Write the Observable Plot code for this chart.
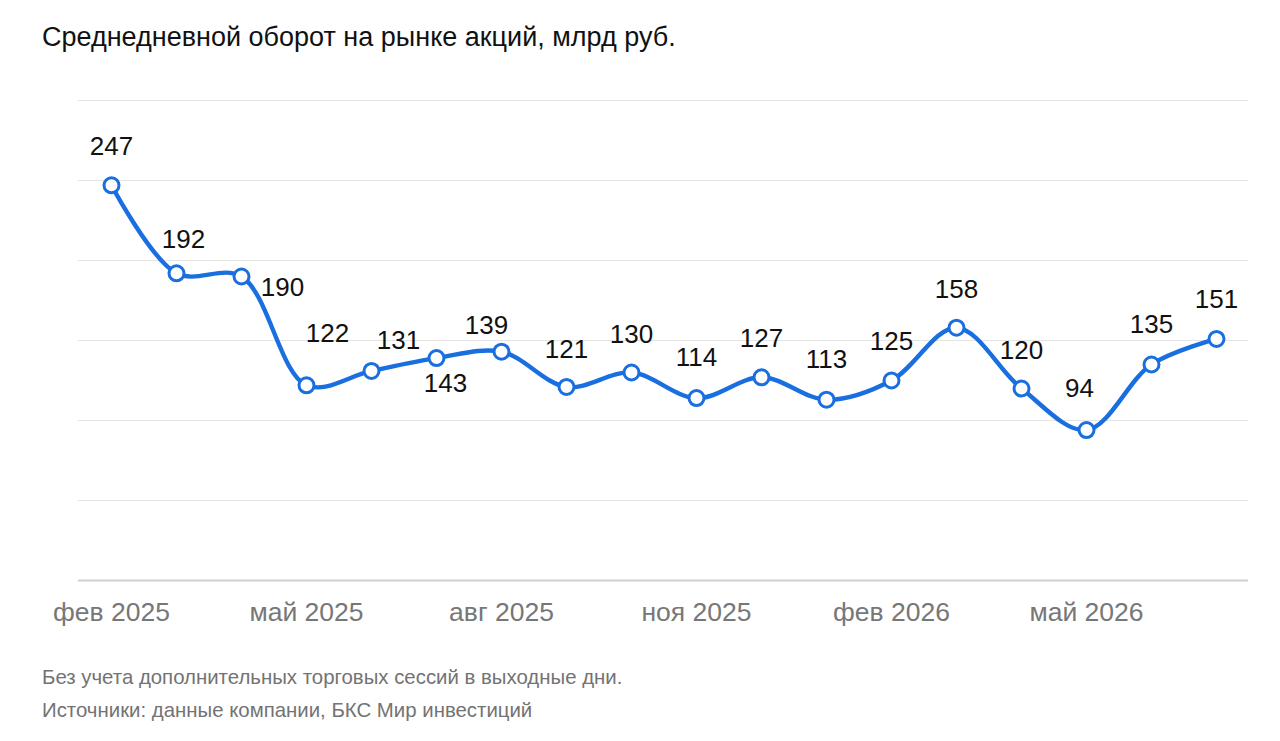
<!DOCTYPE html>
<html>
<head>
<meta charset="utf-8">
<script src="https://cdn.jsdelivr.net/npm/d3@7"></script>
<script src="https://cdn.jsdelivr.net/npm/@observablehq/plot@0.6"></script>
<style>
  html, body { margin: 0; padding: 0; background: #fff; }
  body { width: 1280px; height: 741px; overflow: hidden; font-family: "Liberation Sans", Arial, sans-serif; }
  #title { height: 76px; box-sizing: border-box; padding: 22px 0 0 42px; font-size: 27px; color: #111; line-height: 30px; }
  #chart { height: 560px; }
  #caption { padding: 25px 0 0 42px; font-size: 20.4px; color: #737373; line-height: 33px; }
</style>
</head>
<body>
<div id="title">Среднедневной оборот на рынке акций, млрд руб.</div>
<div id="chart"></div>
<div id="caption">
  <div>Без учета дополнительных торговых сессий в выходные дни.</div>
  <div>Источники: данные компании, БКС Мир инвестиций</div>
</div>
<script>
const months = ["фев 2025","мар 2025","апр 2025","май 2025","июн 2025","июл 2025","авг 2025","сен 2025","окт 2025","ноя 2025","дек 2025","янв 2026","фев 2026","мар 2026","апр 2026","май 2026","июн 2026","июл 2026"];
const values = [247, 192, 190, 122, 131, 139, 143, 121, 130, 114, 127, 113, 125, 158, 120, 94, 135, 151];
const labels = ["247","192","190","122","131","143","139","121","130","114","127","113","125","158","120","94","135","151"];
const tickMonths = months.filter((m, i) => i % 3 === 0);
const gridValues = [50, 100, 150, 200, 250, 300];

// label offsets (styling only)
const labelOffsets = [
  [0,-39],[7,-34],[41,11],[21,-52],[27,-30],[9,26],[-15,-26],[0,-37],[0,-38],
  [0,-40],[0,-39],[0,-40],[0,-39],[0,-38],[0,-38],[-7,-41],[0,-40],[0,-39]
];

const data = months.map((m, i) => ({month: m, value: values[i], label: labels[i], i}));

const blue = "#1a6fe0";
const font = "Liberation Sans, Arial, sans-serif";

const chart = Plot.plot({
  width: 1280,
  height: 560,
  marginTop: 24,
  marginBottom: 56,
  marginLeft: 78,
  marginRight: 32,
  style: {fontFamily: font, background: "#fff", overflow: "visible"},
  x: {type: "point", domain: months, padding: 0.5, label: null},
  y: {domain: [0, 300], axis: null},
  marks: [
    Plot.ruleY(gridValues, {stroke: "#e4e4e4", strokeWidth: 1}),
    Plot.ruleY([0], {stroke: "#cfcfcf", strokeWidth: 2}),
    Plot.axisX({ticks: tickMonths, tickSize: 0, tickPadding: 22, fontSize: 26.5, fill: "#777", label: null}),
    Plot.line(data, {x: "month", y: "value", stroke: blue, strokeWidth: 4.4, curve: "catmull-rom"}),
    Plot.dot(data, {x: "month", y: "value", r: 7.5, fill: "#fff", stroke: blue, strokeWidth: 3}),
    ...data.map((d, k) => Plot.text([d], {
      x: "month", y: "value", text: "label",
      dx: labelOffsets[k][0], dy: labelOffsets[k][1],
      fontSize: 26, fill: "#111", textAnchor: "middle", lineAnchor: "middle"
    }))
  ]
});
document.getElementById("chart").appendChild(chart);
</script>
</body>
</html>
